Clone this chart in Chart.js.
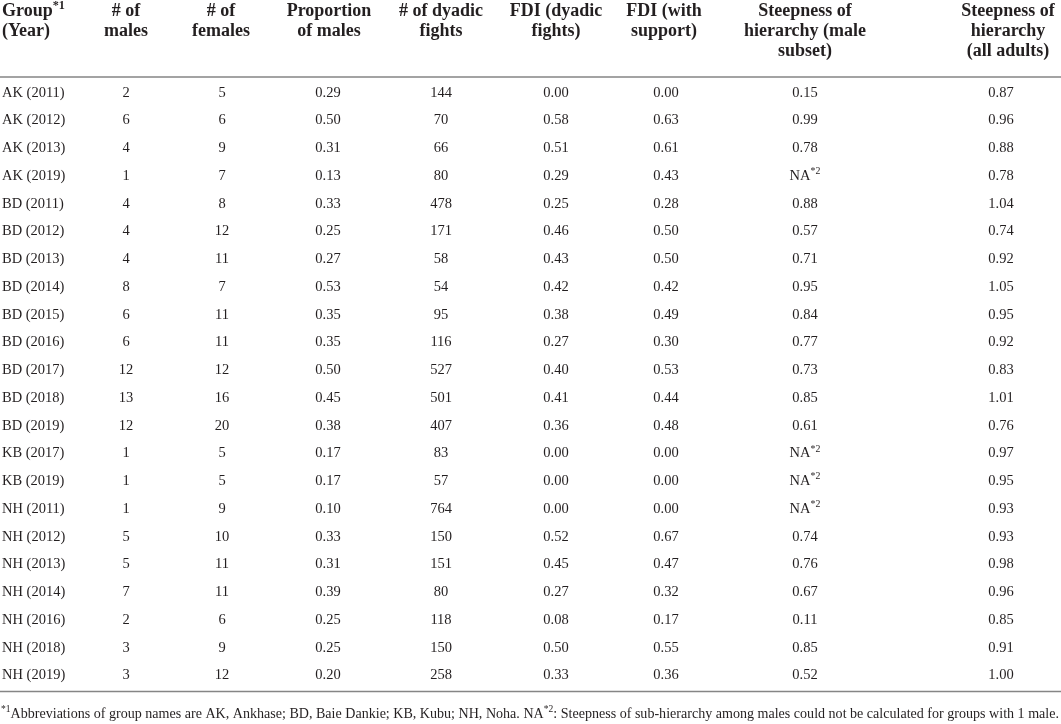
<!DOCTYPE html>
<html>
<head>
<meta charset="utf-8">
<script src="https://cdn.jsdelivr.net/npm/chart.js@4.4.1/dist/chart.umd.min.js"></script>
<style>
  html, body { margin: 0; padding: 0; background: #fff; }
  #wrap { position: relative; width: 1061px; height: 724px; }
</style>
</head>
<body>
<div id="wrap"><canvas id="tableChart"></canvas></div>
<script>
// table values
const groups = ["AK (2011)", "AK (2012)", "AK (2013)", "AK (2019)", "BD (2011)", "BD (2012)", "BD (2013)",
  "BD (2014)", "BD (2015)", "BD (2016)", "BD (2017)", "BD (2018)", "BD (2019)", "KB (2017)", "KB (2019)",
  "NH (2011)", "NH (2012)", "NH (2013)", "NH (2014)", "NH (2016)", "NH (2018)", "NH (2019)"];
const males = [2, 6, 4, 1, 4, 4, 4, 8, 6, 6, 12, 13, 12, 1, 1, 1, 5, 5, 7, 2, 3, 3];
const females = [5, 6, 9, 7, 8, 12, 11, 7, 11, 11, 12, 16, 20, 5, 5, 9, 10, 11, 11, 6, 9, 12];
const propMales = [0.29, 0.50, 0.31, 0.13, 0.33, 0.25, 0.27, 0.53, 0.35, 0.35, 0.50, 0.45, 0.38, 0.17, 0.17,
  0.10, 0.33, 0.31, 0.39, 0.25, 0.25, 0.20];
const dyadicFights = [144, 70, 66, 80, 478, 171, 58, 54, 95, 116, 527, 501, 407, 83, 57, 764, 150, 151, 80, 118, 150, 258];
const fdiDyadic = [0.00, 0.58, 0.51, 0.29, 0.25, 0.46, 0.43, 0.42, 0.38, 0.27, 0.40, 0.41, 0.36, 0.00, 0.00,
  0.00, 0.52, 0.45, 0.27, 0.08, 0.50, 0.33];
const fdiSupport = [0.00, 0.63, 0.61, 0.43, 0.28, 0.50, 0.50, 0.42, 0.49, 0.30, 0.53, 0.44, 0.48, 0.00, 0.00,
  0.00, 0.67, 0.47, 0.32, 0.17, 0.55, 0.36];
const steepMale = [0.15, 0.99, 0.78, null, 0.88, 0.57, 0.71, 0.95, 0.84, 0.77, 0.73, 0.85, 0.61, null, null,
  null, 0.74, 0.76, 0.67, 0.11, 0.85, 0.52];
const steepAll = [0.87, 0.96, 0.88, 0.78, 1.04, 0.74, 0.92, 1.05, 0.95, 0.92, 0.83, 1.01, 0.76, 0.97, 0.95,
  0.93, 0.93, 0.98, 0.96, 0.85, 0.91, 1.00];

const headers = [
  ["Group", "(Year)"],
  ["# of", "males"],
  ["# of", "females"],
  ["Proportion", "of males"],
  ["# of dyadic", "fights"],
  ["FDI (dyadic", "fights)"],
  ["FDI (with", "support)"],
  ["Steepness of", "hierarchy (male", "subset)"],
  ["Steepness of", "hierarchy", "(all adults)"]
];
const footA = "Abbreviations of group names are AK, Ankhase; BD, Baie Dankie; KB, Kubu; NH, Noha. NA";
const footB = ": Steepness of sub-hierarchy among males could not be calculated for groups with 1 male.";

// layout
const colX = [2, 126, 222, 328, 441, 556, 666, 805, 1001];
const headX = [2, 126, 221, 329, 441, 556, 664, 805, 1008];
const INK = "#231f20";
const SERIF = '"Liberation Serif", "Times New Roman", serif';

const columns = [
  groups,
  males,
  females,
  propMales.map((v) => v.toFixed(2)),
  dyadicFights,
  fdiDyadic.map((v) => v.toFixed(2)),
  fdiSupport.map((v) => v.toFixed(2)),
  steepMale.map((v) => (v === null ? "NA" : v.toFixed(2))),
  steepAll.map((v) => v.toFixed(2))
];

// draw text pieces, some raised as superscripts
function drawRich(ctx, parts, x, y, align, size, weight) {
  const font = (p) => `${weight} ${p.sup ? size * 0.68 : size}px ${SERIF}`;
  let w = 0;
  parts.forEach((p) => { ctx.font = font(p); w += ctx.measureText(p.t).width; });
  let cx = align === "center" ? x - w / 2 : x;
  ctx.textAlign = "left";
  parts.forEach((p) => {
    ctx.font = font(p);
    ctx.fillText(p.t, cx, p.sup ? y - size * 0.4 : y);
    cx += ctx.measureText(p.t).width;
  });
}

const tablePlugin = {
  id: "tableText",
  afterDatasetsDraw(chart) {
    const ctx = chart.ctx;
    const area = chart.chartArea;
    ctx.save();
    ctx.fillStyle = INK;
    ctx.textBaseline = "alphabetic";

    // header
    headers.forEach((lines, c) => {
      lines.forEach((line, k) => {
        const y = 16 + k * 20;
        const parts = [{ t: line }];
        if (c === 0 && k === 0) parts.push({ t: "*1", sup: true });
        drawRich(ctx, parts, headX[c], y, c === 0 ? "left" : "center", 18, "bold");
      });
    });

    // body cells, placed on the points of each column dataset
    chart.data.datasets.forEach((ds, c) => {
      const meta = chart.getDatasetMeta(c);
      meta.data.forEach((pt, i) => {
        const parts = [{ t: String(columns[c][i]) }];
        if (c === 7 && steepMale[i] === null) parts.push({ t: "*2", sup: true });
        drawRich(ctx, parts, pt.x, pt.y + 4.8, c === 0 ? "left" : "center", 14.5, "normal");
      });
    });

    // rules
    ctx.strokeStyle = "#858585";
    ctx.lineWidth = 1.3;
    ctx.beginPath();
    ctx.moveTo(0, area.top - 1);
    ctx.lineTo(1061, area.top - 1);
    ctx.moveTo(0, area.bottom + 3);
    ctx.lineTo(1061, area.bottom + 3);
    ctx.stroke();

    // footnote, fitted to the page width
    const parts = [{ t: "*1", sup: true }, { t: footA }, { t: "*2", sup: true }, { t: footB }];
    const fs = 14.5;
    let w = 0;
    parts.forEach((p) => { ctx.font = `${p.sup ? fs * 0.68 : fs}px ${SERIF}`; w += ctx.measureText(p.t).width; });
    ctx.translate(1, 718);
    ctx.scale(1058 / w, 1);
    drawRich(ctx, parts, 0, 0, "left", fs, "normal");
    ctx.restore();
  }
};

new Chart(document.getElementById("tableChart"), {
  type: "scatter",
  data: {
    datasets: columns.map((col, c) => ({
      label: headers[c].join(" "),
      data: groups.map((g) => ({ x: colX[c], y: g })),
      pointRadius: 0,
      pointHoverRadius: 0
    }))
  },
  options: {
    responsive: true,
    maintainAspectRatio: false,
    animation: false,
    events: [],
    layout: { padding: { top: 78, bottom: 35.5, left: 0, right: 0 } },
    plugins: { legend: { display: false }, tooltip: { enabled: false } },
    scales: {
      x: { type: "linear", min: 0, max: 1061, display: false },
      y: { type: "category", labels: groups, offset: true, display: false }
    }
  },
  plugins: [tablePlugin]
});
</script>
</body>
</html>
